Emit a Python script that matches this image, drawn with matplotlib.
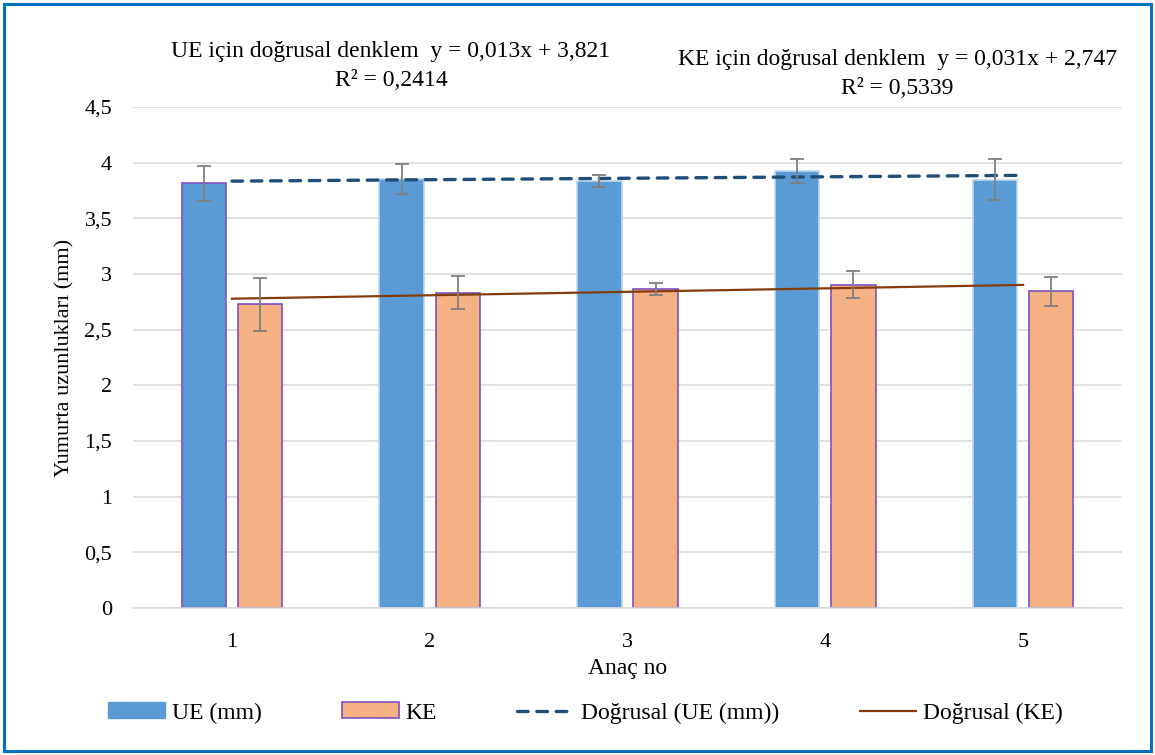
import matplotlib
matplotlib.use("Agg")
import matplotlib.pyplot as plt
from matplotlib.patches import Rectangle, Patch
from matplotlib.lines import Line2D
import numpy as np

# ---- data ----
categories = ["1", "2", "3", "4", "5"]
ue_values = [3.815, 3.852, 3.835, 3.925, 3.847]
ue_errors = [0.155, 0.135, 0.052, 0.105, 0.182]
ke_values = [2.727, 2.832, 2.865, 2.905, 2.843]
ke_errors = [0.236, 0.146, 0.050, 0.120, 0.127]
ue_slope, ue_intercept = 0.013, 3.821
ke_slope, ke_intercept = 0.031, 2.747
y_ticks = [0, 0.5, 1, 1.5, 2, 2.5, 3, 3.5, 4, 4.5]
y_tick_labels = ["0", "0,5", "1", "1,5", "2", "2,5", "3", "3,5", "4", "4,5"]
ue_label = "UE (mm)"
ke_label = "KE"
ue_trend_label = "Doğrusal (UE (mm))"
ke_trend_label = "Doğrusal (KE)"
ue_eq_text = "UE için doğrusal denklem  y = 0,013x + 3,821\nR² = 0,2414"
ke_eq_text = "KE için doğrusal denklem  y = 0,031x + 2,747\nR² = 0,5339"

plt.rcParams['font.family'] = ['Liberation Serif', 'DejaVu Serif']

W, H = 1155, 755
fig = plt.figure(figsize=(W / 100, H / 100), dpi=100)
ax = fig.add_axes([133 / W, 1 - 608 / H, (1122 - 133) / W, (608 - 107) / H])

x = np.arange(1, len(categories) + 1)
offset = 0.142
width = 0.224

ue_color = "#5B9BD5"
ke_color = "#F4B183"
purple = "#7F4FC0"
ue_edges = [purple] + ["#BDD7EE"] * (len(categories) - 1)

ax.bar(x - offset, ue_values, width, color=ue_color, edgecolor=ue_edges,
       linewidth=1.2, zorder=2)
ax.bar(x + offset, ke_values, width, color=ke_color, edgecolor=purple,
       linewidth=1.2, zorder=2)
ax.errorbar(x - offset, ue_values, yerr=ue_errors, fmt="none", ecolor="#7F7F7F",
            elinewidth=1.3, capsize=5, capthick=1.3, zorder=4)
ax.errorbar(x + offset, ke_values, yerr=ke_errors, fmt="none", ecolor="#7F7F7F",
            elinewidth=1.3, capsize=5, capthick=1.3, zorder=4)

xt = np.array([x[0], x[-1]], dtype=float)
ax.plot(xt, ue_slope * xt + ue_intercept, color="#1F4E79", lw=2.4,
        linestyle=(0, (3.2, 2.6)), dash_capstyle="round", zorder=3)
ax.plot(xt, ke_slope * xt + ke_intercept, color="#843C0C", lw=1.6, zorder=3)

ax.set_xlim(0.5, len(categories) + 0.5)
ax.set_ylim(0, 4.5)
ax.set_yticks(y_ticks)
ax.set_yticklabels(y_tick_labels, fontsize=16)
ax.set_xticks(x)
ax.set_xticklabels(categories, fontsize=16)
ax.tick_params(axis="y", length=0, pad=15)
ax.tick_params(axis="x", length=0, pad=18)
ax.yaxis.grid(True, color="#D9D9D9", lw=1.1, zorder=0)
ax.set_axisbelow(True)
for s in ["left", "right", "top"]:
    ax.spines[s].set_visible(False)
ax.spines["bottom"].set_color("#D9D9D9")
ax.spines["bottom"].set_linewidth(1.1)

ax.set_xlabel("Anaç no", fontsize=17, labelpad=4)
ax.set_ylabel("Yumurta uzunlukları (mm)", fontsize=16, labelpad=7)

fig.text(391 / W, 1 - 66 / H, ue_eq_text, ha="center", va="center",
         fontsize=17, linespacing=1.55)
fig.text(897 / W, 1 - 74 / H, ke_eq_text, ha="center", va="center",
         fontsize=17, linespacing=1.5)

handles = [
    Patch(facecolor=ue_color, edgecolor=ue_color, label=ue_label),
    Patch(facecolor=ke_color, edgecolor=purple, linewidth=1.2, label=ke_label),
    Line2D([], [], color="#1F4E79", lw=2.4, linestyle=(0, (3.2, 2.6)),
           dash_capstyle="round", label=ue_trend_label),
    Line2D([], [], color="#843C0C", lw=1.6, label=ke_trend_label),
]
fig.legend(handles=handles, loc="center", bbox_to_anchor=(0.507, 1 - 713 / H),
           ncol=4, frameon=False, fontsize=17, handlelength=2.4,
           handleheight=0.65, handletextpad=0.3, columnspacing=3.4)

fig.patches.append(Rectangle((4 / W, 4 / H), (W - 8) / W, (H - 8) / H,
                             transform=fig.transFigure, fill=False,
                             edgecolor="#0070C0", lw=2.2, zorder=10))

fig.savefig("out.png", dpi=100)
